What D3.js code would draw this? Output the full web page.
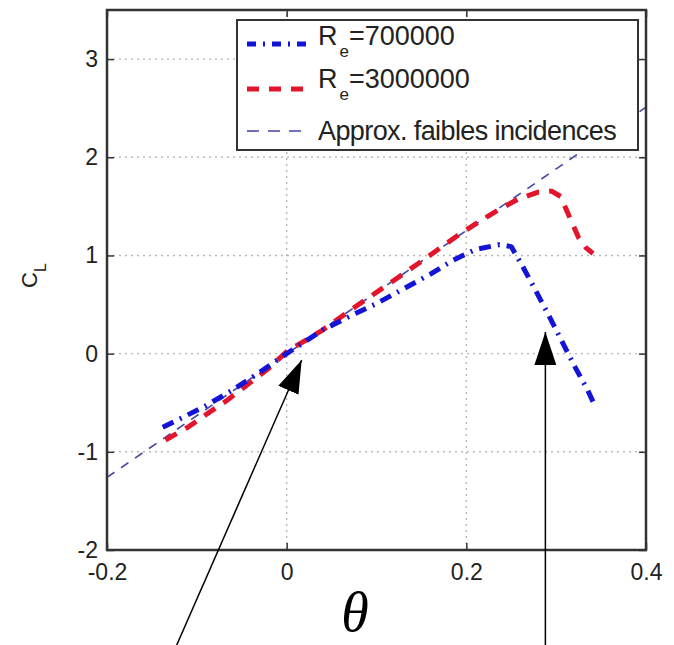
<!DOCTYPE html>
<html>
<head>
<meta charset="utf-8">
<script src="https://cdn.jsdelivr.net/npm/d3@7"></script>
<style>
  body { margin: 0; background: #fff; }
  svg { display: block; }
</style>
</head>
<body>
<div id="chart-container"></div>
<script>
// values
const thetaLow = [-0.138, -0.12, -0.09, -0.06, -0.03, 0, 0.04, 0.07, 0.10, 0.13, 0.16, 0.185, 0.21, 0.237, 0.25, 0.262, 0.275, 0.29, 0.305, 0.32, 0.335, 0.341];
const clLow    = [-0.75, -0.67, -0.53, -0.37, -0.19, 0.0, 0.24, 0.38, 0.51, 0.66, 0.81, 0.95, 1.06, 1.11, 1.09, 0.90, 0.68, 0.42, 0.15, -0.12, -0.37, -0.49];
const thetaHigh = [-0.135, -0.11, -0.088, -0.067, -0.047, -0.02, 0, 0.04, 0.08, 0.12, 0.15, 0.17, 0.19, 0.215, 0.235, 0.257, 0.28, 0.295, 0.305, 0.315, 0.325, 0.333, 0.341];
const clHigh    = [-0.88, -0.75, -0.61, -0.48, -0.34, -0.15, 0.02, 0.24, 0.50, 0.75, 0.94, 1.07, 1.20, 1.35, 1.46, 1.57, 1.645, 1.655, 1.60, 1.39, 1.18, 1.08, 1.02];
const thetaApprox = [-0.2, 0.4];
const clApprox    = [-1.26, 2.51];

const xTicks = [-0.2, 0, 0.2, 0.4];
const yTicks = [-2, -1, 0, 1, 2, 3];
const legendLabels = [["R", "e", "=700000"], ["R", "e", "=3000000"], ["Approx. faibles incidences", "", ""]];
// arrow annotations, in data units: tail -> tip
const arrows = [
  { x0: -0.1225, y0: -2.97, x1: 0.0167, y1: -0.065 },
  { x0: 0.288, y0: -2.97, x1: 0.288, y1: 0.22 }
];

const width = 674, height = 645;
const margin = { top: 10, left: 107, right: 28, bottom: 95 };
const frameColor = '#333';
const blue = '#1414d6', red = '#e3152c', slate = '#4646a8';

const svg = d3.select("#chart-container").append("svg")
  .attr("width", width).attr("height", height);

const x = d3.scaleLinear().domain([-0.2, 0.4]).range([margin.left, width - margin.right]);
const y = d3.scaleLinear().domain([-2, 3.5]).range([height - margin.bottom, margin.top]);

// dotted grid
const grid = svg.append("g").attr("stroke", "#b8b8b8").attr("stroke-width", 1.4).attr("stroke-dasharray", "2,4");
grid.selectAll(".gx").data(xTicks.slice(1, -1)).enter().append("line")
  .attr("x1", d => x(d)).attr("x2", d => x(d)).attr("y1", y.range()[0]).attr("y2", y.range()[1]);
grid.selectAll(".gy").data(yTicks.slice(1)).enter().append("line")
  .attr("y1", d => y(d)).attr("y2", d => y(d)).attr("x1", x.range()[0]).attr("x2", x.range()[1]);

// curves (legend order: low Re, high Re, approx)
const line = d3.line().x(d => x(d[0])).y(d => y(d[1]));
const series = [
  { th: thetaLow, cl: clLow, color: blue, w: 5, dash: "12,7,2,7", key: "9,7,2,7" },
  { th: thetaHigh, cl: clHigh, color: red, w: 5, dash: "13,10", key: "12,10" },
  { th: thetaApprox, cl: clApprox, color: slate, w: 1.6, dash: "9,8", key: "12,9" }
];
svg.append("g").selectAll("path").data(series.slice().reverse()).enter().append("path")
  .attr("d", s => line(s.th.map((t, i) => [t, s.cl[i]])))
  .attr("fill", "none")
  .attr("stroke", s => s.color)
  .attr("stroke-width", s => s.w)
  .attr("stroke-dasharray", s => s.dash)
  .attr("stroke-linejoin", "round");

// axes with inward ticks (box style)
const fontAxis = "23px 'Liberation Sans', Arial, sans-serif";
const fmt = d => String(d);
const xAxis = svg.append("g")
  .attr("transform", `translate(0,${y.range()[0]})`)
  .call(d3.axisBottom(x).tickValues(xTicks).tickFormat(fmt).tickSize(-7).tickPadding(10));
const yAxis = svg.append("g")
  .attr("transform", `translate(${x.range()[0]},0)`)
  .call(d3.axisLeft(y).tickValues(yTicks).tickFormat(fmt).tickSize(-7).tickPadding(9));
svg.append("g").attr("transform", `translate(0,${y.range()[1]})`)
  .call(d3.axisTop(x).tickValues(xTicks).tickFormat("").tickSize(-7));
svg.append("g").attr("transform", `translate(${x.range()[1]},0)`)
  .call(d3.axisRight(y).tickValues(yTicks).tickFormat("").tickSize(-7));
svg.selectAll(".domain").remove();
svg.selectAll(".tick line").attr("stroke", frameColor).attr("stroke-width", 1.5);
svg.selectAll(".tick text").style("font", fontAxis).attr("fill", "#222");
xAxis.selectAll(".tick text").attr("dy", "0.85em");

svg.append("rect")
  .attr("x", x.range()[0]).attr("y", y.range()[1])
  .attr("width", x.range()[1] - x.range()[0]).attr("height", y.range()[0] - y.range()[1])
  .attr("fill", "none").attr("stroke", frameColor).attr("stroke-width", 2.5);

// legend
const lg = svg.append("g").attr("transform", "translate(237,20)");
lg.append("rect").attr("width", 401).attr("height", 130)
  .attr("fill", "#fff").attr("stroke", frameColor).attr("stroke-width", 2);
const rowLine = [24, 69, 111], rowBase = [25, 68, 120];
legendLabels.forEach((lab, i) => {
  const s = series[i];
  lg.append("line")
    .attr("x1", 10).attr("x2", 71).attr("y1", rowLine[i]).attr("y2", rowLine[i])
    .attr("stroke", s.color).attr("stroke-width", s.w)
    .attr("stroke-dasharray", s.key);
  const t = lg.append("text").attr("x", 81).attr("y", rowBase[i])
    .style("font", "27px 'Liberation Sans', Arial, sans-serif").attr("fill", "#222")
    .attr("letter-spacing", i === 2 ? "-0.6px" : "0");
  t.append("tspan").text(lab[0]);
  if (lab[1]) {
    t.append("tspan").attr("dy", 12).attr("dx", 2).style("font-size", "17px").text(lab[1]);
    t.append("tspan").attr("dy", -12).text(lab[2]);
  }
});

// axis titles
const yl = svg.append("text")
  .attr("transform", "translate(37,288) rotate(-90)")
  .style("font", "22px 'Liberation Sans', Arial, sans-serif").attr("fill", "#222");
yl.append("tspan").text("C");
yl.append("tspan").attr("dy", 9).style("font-size", "16px").text("L");

svg.append("text")
  .attr("x", 355).attr("y", 631)
  .attr("text-anchor", "middle")
  .style("font", "italic 56px 'Liberation Serif', 'DejaVu Serif', serif")
  .text("θ");

// arrows
svg.append("defs").append("marker")
  .attr("id", "head").attr("viewBox", "0 0 33 22")
  .attr("refX", 33).attr("refY", 11)
  .attr("markerWidth", 33).attr("markerHeight", 22)
  .attr("markerUnits", "userSpaceOnUse")
  .attr("orient", "auto")
  .append("path").attr("d", "M0,0 L33,11 L0,22 Z").attr("fill", "#000");
svg.append("g").selectAll("line").data(arrows).enter().append("line")
  .attr("x1", d => x(d.x0)).attr("y1", d => y(d.y0))
  .attr("x2", d => x(d.x1)).attr("y2", d => y(d.y1))
  .attr("stroke", "#000").attr("stroke-width", 1.5)
  .attr("marker-end", "url(#head)");
</script>
</body>
</html>
